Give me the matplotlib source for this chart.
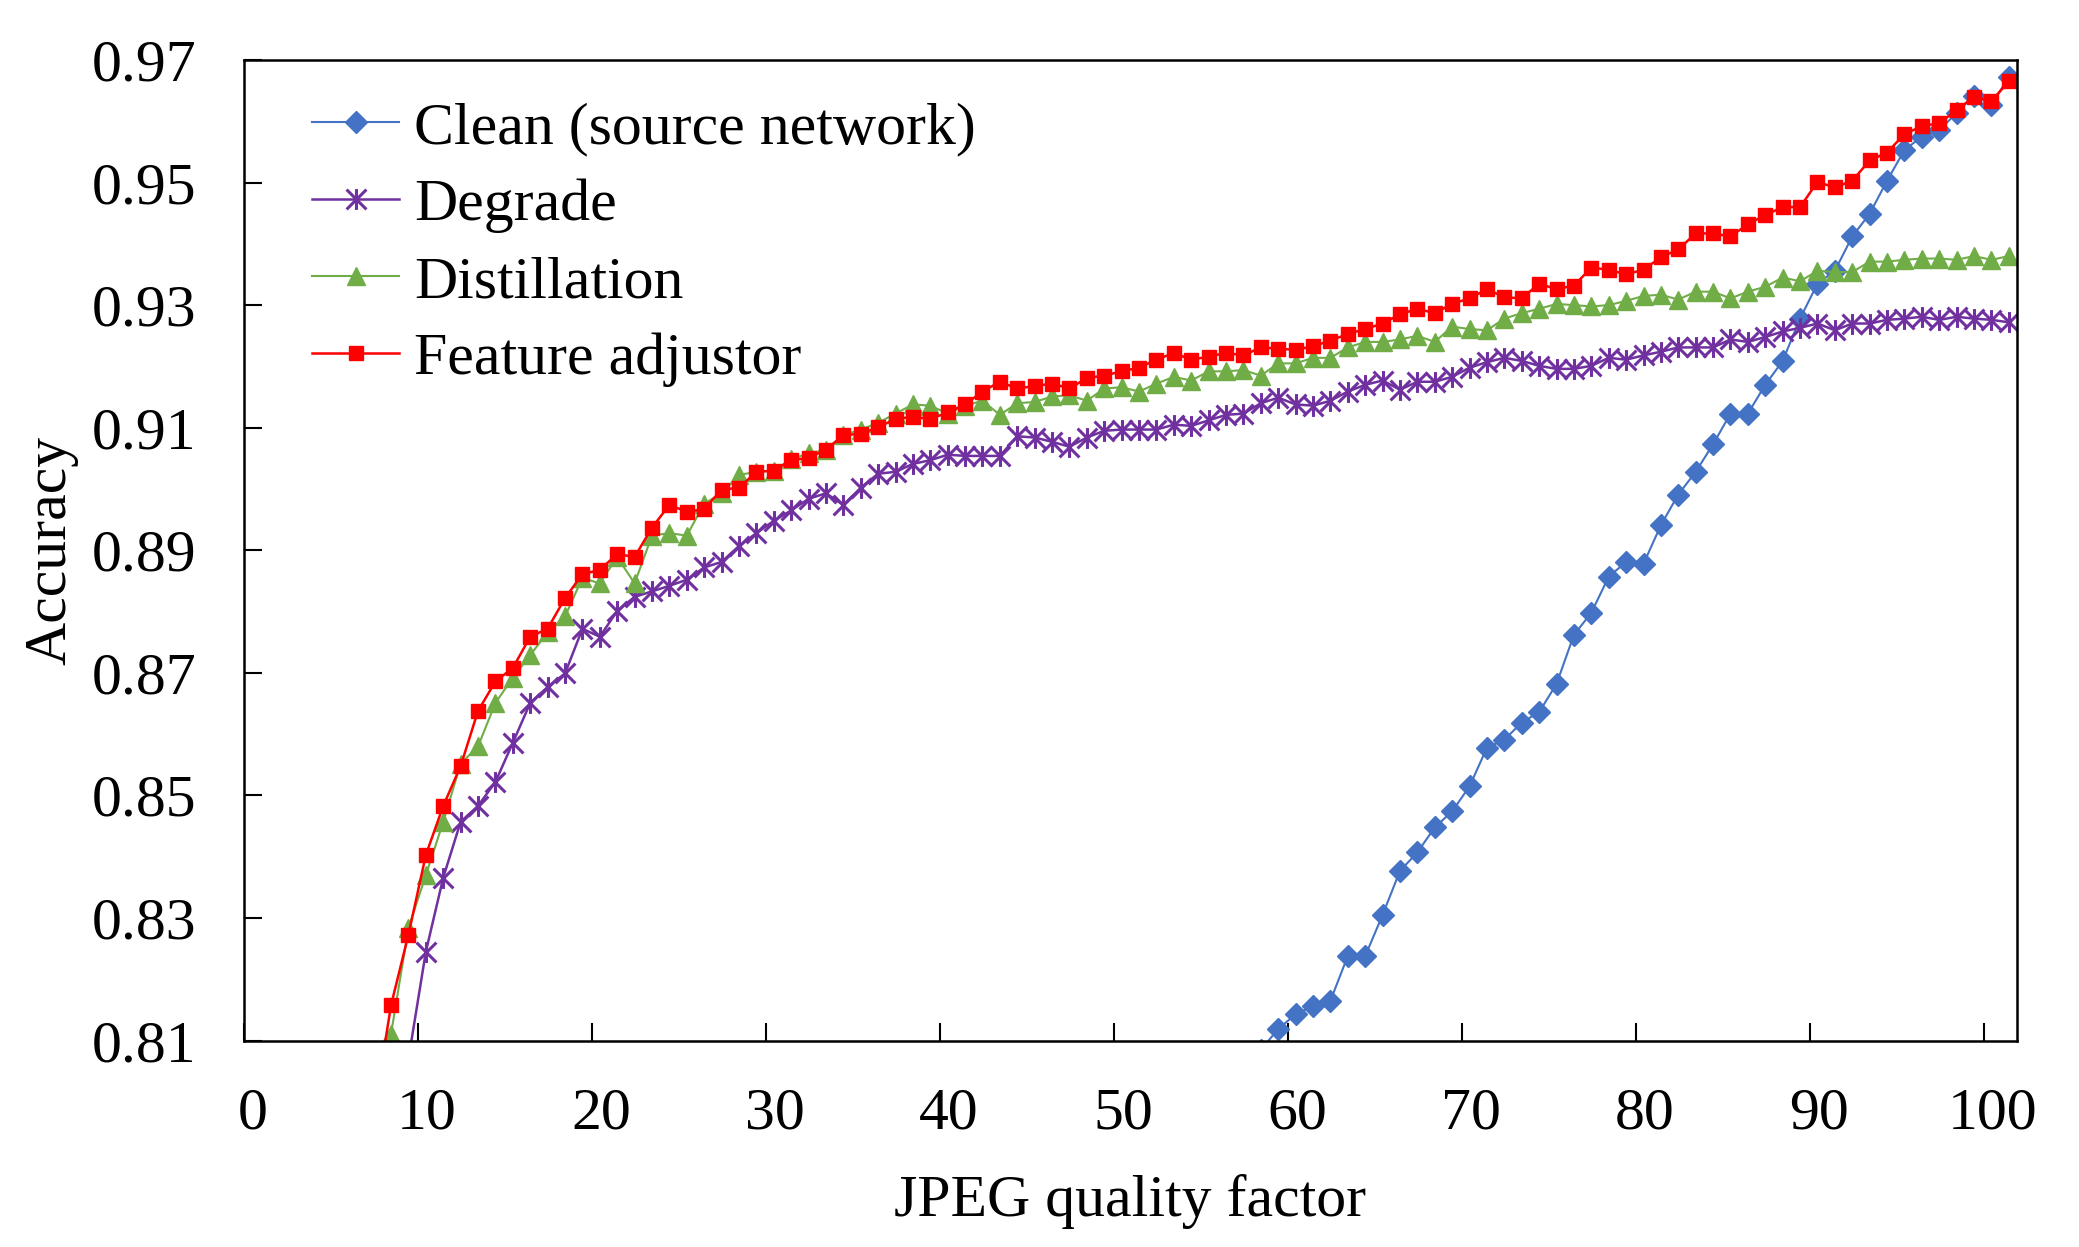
import numpy as np
import matplotlib.pyplot as plt
from matplotlib.path import Path
from matplotlib.transforms import ScaledTranslation

plt.rcParams["font.family"] = ["Liberation Serif", "DejaVu Serif"]

# JPEG quality factors (points sit a little right of the integer ticks, as in the Excel original)
quality = np.arange(7, 102)
quality_clean = np.arange(58, 102)
x_shift = 0.45

clean = [
    0.8085, 0.8119, 0.8143, 0.8156, 0.8165, 0.8238, 0.8238, 0.8305, 0.8377, 0.8407,
    0.8448, 0.8474, 0.8515, 0.8578, 0.8591, 0.8619, 0.8636, 0.8682, 0.8762, 0.8798,
    0.8857, 0.8881, 0.8878, 0.8941, 0.8991, 0.9028, 0.9073, 0.9123, 0.9123, 0.9170,
    0.9209, 0.9278, 0.9335, 0.9356, 0.9412, 0.9449, 0.9503, 0.9553, 0.9575, 0.9585,
    0.9614, 0.9642, 0.9627, 0.9672,
]

degrade = [
    0.780, 0.795, 0.807, 0.8245, 0.8366, 0.8457, 0.8483, 0.8522, 0.8586, 0.8651,
    0.8677, 0.8699, 0.8772, 0.8759, 0.8801, 0.8824, 0.8833, 0.8842, 0.8852, 0.8872,
    0.8881, 0.8907, 0.8928, 0.8948, 0.8965, 0.8984, 0.8993, 0.8974, 0.9002, 0.9025,
    0.9028, 0.9041, 0.9047, 0.9056, 0.9054, 0.9054, 0.9054, 0.9086, 0.9084, 0.9077,
    0.9069, 0.9084, 0.9095, 0.9097, 0.9097, 0.9097, 0.9105, 0.9103, 0.9112, 0.9121,
    0.9123, 0.9140, 0.9149, 0.9138, 0.9136, 0.9144, 0.9159, 0.9170, 0.9177, 0.9162,
    0.9175, 0.9175, 0.9183, 0.9198, 0.9207, 0.9214, 0.9209, 0.9201, 0.9196, 0.9196,
    0.9201, 0.9214, 0.9211, 0.9218, 0.9224, 0.9231, 0.9231, 0.9231, 0.9244, 0.9240,
    0.9248, 0.9257, 0.9263, 0.9270, 0.9259, 0.9270, 0.9270, 0.9276, 0.9278, 0.9281,
    0.9276, 0.9281, 0.9278, 0.9276, 0.9272,
]

distillation = [
    0.795, 0.8111, 0.8284, 0.8370, 0.8457, 0.8552, 0.8580, 0.8651, 0.8692, 0.8729,
    0.8766, 0.8792, 0.8855, 0.8846, 0.8889, 0.8846, 0.8924, 0.8928, 0.8924, 0.8976,
    0.8993, 0.9023, 0.9028, 0.9030, 0.9049, 0.9058, 0.9064, 0.9088, 0.9097, 0.9108,
    0.9123, 0.9138, 0.9136, 0.9123, 0.9136, 0.9144, 0.9121, 0.9140, 0.9142, 0.9151,
    0.9153, 0.9144, 0.9164, 0.9166, 0.9159, 0.9172, 0.9183, 0.9177, 0.9192, 0.9192,
    0.9194, 0.9185, 0.9205, 0.9205, 0.9214, 0.9214, 0.9231, 0.9240, 0.9240, 0.9244,
    0.9250, 0.9240, 0.9265, 0.9261, 0.9259, 0.9278, 0.9287, 0.9294, 0.9302, 0.9300,
    0.9298, 0.9300, 0.9307, 0.9315, 0.9317, 0.9309, 0.9322, 0.9322, 0.9311, 0.9322,
    0.9330, 0.9345, 0.9339, 0.9356, 0.9354, 0.9354, 0.9371, 0.9371, 0.9374, 0.9376,
    0.9376, 0.9374, 0.9380, 0.9374, 0.9380,
]

feature_adjustor = [
    0.798, 0.8158, 0.8273, 0.8403, 0.8483, 0.8548, 0.8638, 0.8686, 0.8708, 0.8759,
    0.8772, 0.8822, 0.8861, 0.8868, 0.8894, 0.8889, 0.8937, 0.8974, 0.8963, 0.8967,
    0.8999, 0.9002, 0.9028, 0.9030, 0.9047, 0.9051, 0.9064, 0.9088, 0.9090, 0.9101,
    0.9114, 0.9118, 0.9114, 0.9125, 0.9138, 0.9159, 0.9175, 0.9164, 0.9168, 0.9172,
    0.9164, 0.9181, 0.9185, 0.9192, 0.9198, 0.9211, 0.9222, 0.9211, 0.9216, 0.9222,
    0.9218, 0.9231, 0.9229, 0.9227, 0.9233, 0.9242, 0.9253, 0.9261, 0.9270, 0.9285,
    0.9294, 0.9287, 0.9302, 0.9311, 0.9326, 0.9313, 0.9311, 0.9335, 0.9326, 0.9332,
    0.9361, 0.9358, 0.9350, 0.9358, 0.9378, 0.9391, 0.9417, 0.9417, 0.9412, 0.9432,
    0.9447, 0.9460, 0.9460, 0.9501, 0.9492, 0.9503, 0.9536, 0.9549, 0.9579, 0.9592,
    0.9597, 0.9618, 0.9640, 0.9633, 0.9665,
]

labels = ["Clean (source network)", "Degrade", "Distillation", "Feature adjustor"]
colors = ["#4472C4", "#7030A0", "#70AD47", "#FF0000"]

# Excel-style star marker: an X with a vertical bar through it
star = Path(
    [(-1, -1), (1, 1), (-1, 1), (1, -1), (0, -1.05), (0, 1.05)],
    [Path.MOVETO, Path.LINETO, Path.MOVETO, Path.LINETO, Path.MOVETO, Path.LINETO],
)

fs = 43

fig = plt.figure(figsize=(20.79, 12.47), dpi=100)
ax = fig.add_axes([0.1174, 0.1655, 0.8526, 0.7864])

ax.plot(quality_clean + x_shift, clean, color=colors[0], lw=1.5, marker="D",
        markersize=11, label=labels[0])
ax.plot(quality + x_shift, degrade, color=colors[1], lw=1.8, marker=star,
        markersize=15, markeredgewidth=2.2, label=labels[1])
ax.plot(quality + x_shift, distillation, color=colors[2], lw=1.5, marker="^",
        markersize=12.5, label=labels[2])
ax.plot(quality + x_shift, feature_adjustor, color=colors[3], lw=1.8, marker="s",
        markersize=10.5, label=labels[3])

ax.set_xlim(0, 101.9)
ax.set_ylim(0.81, 0.97)
ax.set_xticks(np.arange(0, 101, 10))
ax.set_yticks(np.arange(0.81, 0.9701, 0.02))
ax.yaxis.set_major_formatter(plt.FormatStrFormatter("%.2f"))

for s in ax.spines.values():
    s.set_linewidth(1.8)
ax.tick_params(direction="in", length=13, width=1.5, labelsize=fs, pad=34)

# Excel puts the category labels slightly right of the tick marks
offset = ScaledTranslation(0.09, 0, fig.dpi_scale_trans)
for lab in ax.get_xticklabels():
    lab.set_transform(lab.get_transform() + offset)

ax.set_xlabel("JPEG quality factor", fontsize=fs, labelpad=23)
ax.set_ylabel("Accuracy", fontsize=fs, labelpad=10)

ax.legend(loc="upper left", bbox_to_anchor=(0.025, 0.982), frameon=False,
          fontsize=fs, handlelength=1.45, handletextpad=0.25, labelspacing=0.37,
          borderaxespad=0.0)

fig.savefig("out.png", dpi=100)
